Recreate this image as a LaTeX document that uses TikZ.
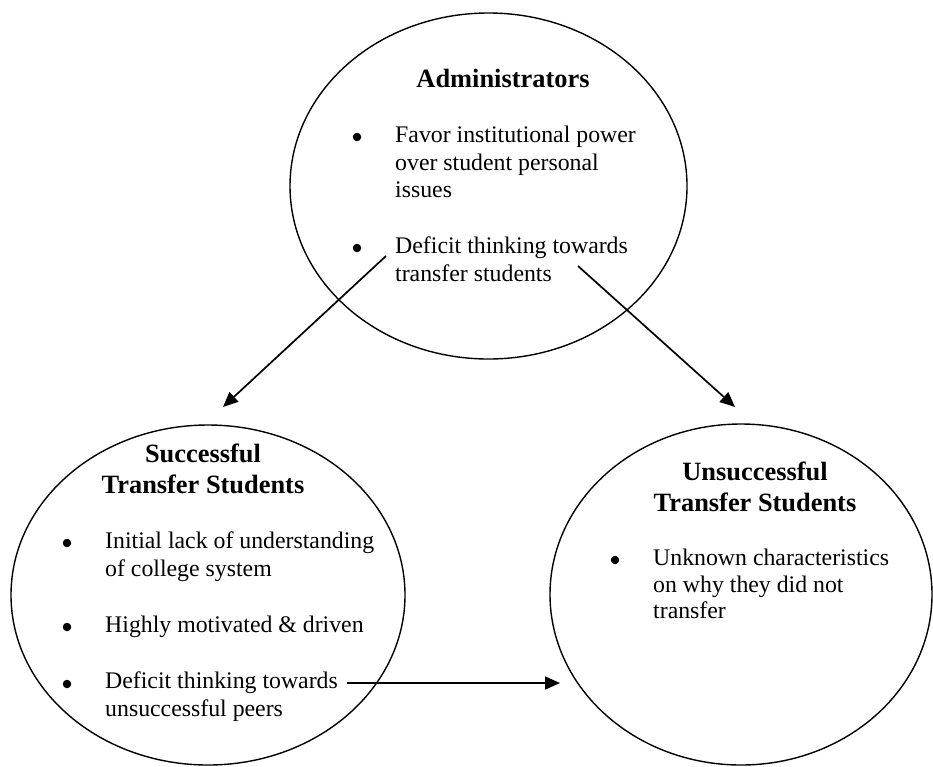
\documentclass[tikz,border=0pt]{standalone}
\usepackage{fontspec}
\setmainfont{Liberation Serif}
\usetikzlibrary{shapes.geometric,arrows.meta}
\begin{document}
\begin{tikzpicture}[x=1pt,y=-1pt,
 oval/.style={draw, ellipse, line width=1.4pt, inner sep=0pt, outer sep=0pt},
 body/.style={anchor=base west, align=left, inner sep=0pt, font=\fontsize{23.8}{27.5}\selectfont},
 head/.style={anchor=base, align=center, inner sep=0pt, font=\bfseries\fontsize{26.4}{31}\selectfont},
 dot/.style={circle, fill, inner sep=0pt, minimum size=8.5pt},
 conn/.style={line width=1.7pt, -{Triangle[length=15pt,width=13pt]}}]
\useasboundingbox (0,0) rectangle (933,766);
% ellipses
\node[oval, minimum width=397pt, minimum height=346pt] (adm) at (488.5,186) {};
\node[oval, minimum width=394pt, minimum height=340pt] (succ) at (208,595) {};
\node[oval, minimum width=382pt, minimum height=341pt] (unsucc) at (741,594.5) {};
% Administrators (anchor = baseline of the last line)
\node[head] (admh) at (503,87) {Administrators};
\node[dot] (ad1) at (357,137) {};
\node[body] (at1) at (395,197.5) {Favor institutional power\\over student personal\\issues};
\node[dot] (ad2) at (357,248) {};
\node[body] (at2) at (395,281) {Deficit thinking towards\\transfer students};
% Successful
\node[head] (sh) at (203,493) {Successful\\Transfer Students};
\node[dot] (sd1) at (67,543) {};
\node[body] (st1) at (105,576) {Initial lack of understanding\\of college system};
\node[dot] (sd2) at (67,627) {};
\node[body] (st2) at (105,632.5) {Highly motivated \& driven};
\node[dot] (sd3) at (67,684) {};
\node[body] (st3) at (105,716) {Deficit thinking towards\\unsuccessful peers};
% Unsuccessful
\node[head] (uh) at (755,511) {Unsuccessful\\Transfer Students};
\node[dot] (ud1) at (615,560) {};
\node[body, font=\fontsize{23.8}{26.5}\selectfont] (ut1) at (653,618.5) {Unknown characteristics\\on why they did not\\transfer};
% connectors
\coordinate (l0) at (386,256);
\coordinate (l1) at (223,407);
\coordinate (r0) at (578,266);
\coordinate (r1) at (735,407);
\coordinate (h0) at (347,683);
\coordinate (h1) at (560,683);
\draw[conn] (l0) -- (l1);
\draw[conn] (r0) -- (r1);
\draw[conn] (h0) -- (h1);
\end{tikzpicture}
\end{document}
